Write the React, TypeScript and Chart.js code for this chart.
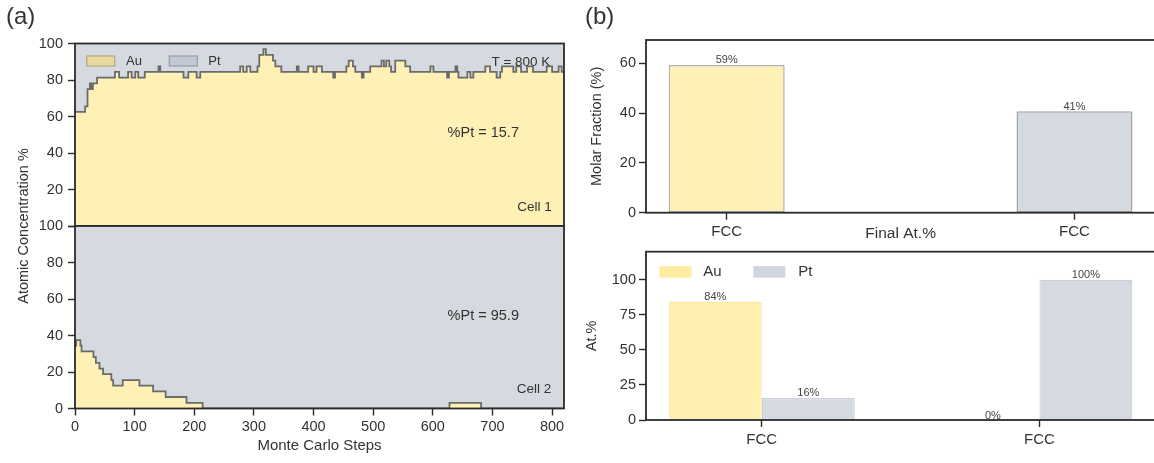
import React, { useEffect, useRef } from 'react';
import { Chart, registerables } from 'chart.js';

Chart.register(...registerables);

const FONT = '"Liberation Sans", Arial, Helvetica, sans-serif';
Chart.defaults.font.family = FONT;

const TEXT = '#333333';
const AXIS = '#2b2b2b';
const YELLOW = 'rgb(255, 241, 181)';
const GRAY = 'rgb(213, 218, 225)';
const STEP_LINE = '#6b6b6b';

// ---------------- data ----------------
const seriesNames = ['Au', 'Pt'];

// Cell 1: Monte Carlo step where the Au fraction changes, and the Au % from that step on
const cell1Steps = [0, 17, 21, 25, 28, 30, 37, 67, 74, 89, 95, 101, 106, 117, 140, 143, 182, 190, 204, 210,
  277, 282, 288, 294, 306, 309, 316, 320, 332, 336, 346, 372, 375, 391, 400, 405, 414, 433, 436, 455,
  459, 466, 470, 481, 484, 495, 514, 518, 522, 527, 530, 537, 554, 562, 596, 601, 624, 627, 638, 641,
  643, 658, 663, 668, 688, 696, 707, 713, 716, 735, 740, 748, 758, 768, 791, 800, 811, 816, 820];
const cell1Au = [62.5, 65.6, 75.0, 78.1, 75.0, 78.1, 81.3, 84.4, 81.3, 84.4, 81.3, 84.4, 81.3, 84.4, 87.5, 84.4, 81.3, 84.4, 81.3, 84.4,
  87.5, 84.4, 87.5, 84.4, 87.5, 93.8, 96.9, 93.8, 90.6, 87.5, 84.4, 87.5, 84.4, 87.5, 84.4, 87.5, 84.4, 81.3, 84.4, 87.5,
  90.6, 87.5, 84.4, 81.3, 84.4, 87.5, 90.6, 87.5, 90.6, 87.5, 84.4, 90.6, 87.5, 84.4, 87.5, 84.4, 81.3, 84.4, 87.5, 84.4,
  81.3, 84.4, 81.3, 84.4, 87.5, 84.4, 81.3, 84.4, 87.5, 84.4, 87.5, 84.4, 87.5, 84.4, 87.5, 84.4, 87.5, 84.4, 84.4];

// Cell 2
const cell2Steps = [0, 2, 9, 11, 31, 35, 41, 47, 61, 64, 80, 108, 131, 152, 187, 214, 628, 681, 820];
const cell2Au = [34.4, 37.5, 34.4, 31.3, 28.1, 25.0, 21.9, 18.8, 15.6, 12.5, 15.6, 12.5, 9.4, 6.3, 3.1, 0, 3.1, 0, 0];

const cellNames = ['Cell 1', 'Cell 2'];
const cellPt = [15.7, 95.9];
const temperature = 'T = 800 K';

// Panel (b)
const phaseLabels = ['FCC', 'FCC'];
const molarFraction = [59.3, 40.7];
const finalAu = [84.3, 0];
const finalPt = [15.7, 100];

// ---------------- plugins ----------------
type TextItem = { text: string; x: number; y: number; size: number; align?: CanvasTextAlign; rel?: boolean; rotate?: number };

function textPlugin(items: TextItem[]) {
  return {
    id: 'texts',
    afterDraw(chart: any) {
      const { ctx, chartArea: a } = chart;
      items.forEach((it) => {
        const x = it.rel ? a.left + it.x * (a.right - a.left) : it.x;
        const y = it.rel ? a.top + it.y * (a.bottom - a.top) : it.y;
        ctx.save();
        ctx.translate(x, y);
        if (it.rotate) ctx.rotate(it.rotate);
        ctx.font = `${it.size}px ${FONT}`;
        ctx.fillStyle = TEXT;
        ctx.textAlign = it.align ?? 'left';
        ctx.textBaseline = 'middle';
        ctx.fillText(it.text, 0, 0);
        ctx.restore();
      });
    },
  };
}

const framePlugin = {
  id: 'frame',
  afterDraw(chart: any) {
    const { ctx, chartArea: a } = chart;
    ctx.save();
    ctx.strokeStyle = AXIS;
    ctx.lineWidth = 1.8;
    ctx.strokeRect(a.left, a.top, a.right - a.left, a.bottom - a.top);
    ctx.restore();
  },
};

type PatchItem = { label: string; fill: string; stroke: string; boxX: number; textX: number };
function patchLegend(cfg: { boxTop: number; boxW: number; boxH: number; size: number; lineWidth: number; items: PatchItem[] }) {
  return {
    id: 'patchLegend',
    afterDatasetsDraw(chart: any) {
      const { ctx, chartArea: a } = chart;
      cfg.items.forEach((it) => {
        const bx = a.left + it.boxX;
        const by = a.top + cfg.boxTop;
        ctx.save();
        ctx.fillStyle = it.fill;
        ctx.fillRect(bx, by, cfg.boxW, cfg.boxH);
        if (cfg.lineWidth > 0) {
          ctx.strokeStyle = it.stroke;
          ctx.lineWidth = cfg.lineWidth;
          ctx.strokeRect(bx, by, cfg.boxW, cfg.boxH);
        }
        ctx.font = `${cfg.size}px ${FONT}`;
        ctx.fillStyle = TEXT;
        ctx.textAlign = 'left';
        ctx.textBaseline = 'middle';
        ctx.fillText(it.label, a.left + it.textX, by + cfg.boxH / 2);
        ctx.restore();
      });
    },
  };
}

const barLabelPlugin = {
  id: 'barLabels',
  afterDatasetsDraw(chart: any) {
    const { ctx } = chart;
    chart.data.datasets.forEach((ds: any, i: number) => {
      const meta = chart.getDatasetMeta(i);
      meta.data.forEach((el: any, j: number) => {
        const v = ds.data[j].y;
        ctx.save();
        ctx.font = `11px ${FONT}`;
        ctx.fillStyle = '#444444';
        ctx.textAlign = 'center';
        ctx.textBaseline = 'alphabetic';
        ctx.fillText(`${Math.round(v)}%`, el.x, el.y - 1.5);
        ctx.restore();
      });
    });
  },
};

// ---------------- helpers ----------------
const tickGrid = { display: true, drawOnChartArea: false, drawTicks: true, tickLength: 7, tickColor: AXIS, tickWidth: 1.4, offset: false };

function yScale(min: number, max: number, step: number, width: number, padding: number, extra: any = {}) {
  return {
    type: 'linear',
    min,
    max,
    afterFit: (s: any) => { s.width = width; },
    ticks: { stepSize: step, includeBounds: false, font: { family: FONT, size: 14.5 }, color: TEXT, padding, ...(extra.ticks || {}) },
    grid: tickGrid,
    border: { display: false },
    title: extra.title || { display: false },
  };
}

function stepData(steps: number[], vals: number[]) {
  return steps.map((s, i) => ({ x: s, y: vals[i] }));
}

function cellDatasets(steps: number[], vals: number[]) {
  return [
    {
      label: seriesNames[0],
      data: stepData(steps, vals),
      stepped: 'before',
      borderColor: STEP_LINE,
      borderWidth: 1.8,
      backgroundColor: YELLOW,
      fill: 'origin',
      pointRadius: 0,
    },
    {
      label: seriesNames[1],
      data: stepData(steps, vals),
      stepped: 'before',
      borderColor: 'rgba(0,0,0,0)',
      borderWidth: 0,
      backgroundColor: GRAY,
      fill: 'end',
      pointRadius: 0,
    },
  ];
}

const baseOptions = {
  responsive: false,
  animation: false,
  devicePixelRatio: 1,
  events: [],
};

// ---------------- chart builders ----------------
const buildCell1 = () => ({
  type: 'line',
  data: { datasets: cellDatasets(cell1Steps, cell1Au) },
  options: {
    ...baseOptions,
    layout: { padding: { left: 0, top: 43.5, right: 36, bottom: 14 } },
    plugins: { legend: { display: false }, tooltip: { enabled: false } },
    scales: {
      x: { type: 'linear', min: 0, max: 820, display: false },
      y: yScale(0, 100, 20, 75, 5, { ticks: { callback: (v: any) => (v === 0 ? '' : String(v)) } }),
    },
  },
  plugins: [
    patchLegend({
      boxTop: 12.5, boxW: 28, boxH: 10, size: 13, lineWidth: 1.2,
      items: [
        { label: seriesNames[0], fill: 'rgb(232, 217, 156)', stroke: 'rgb(178, 168, 125)', boxX: 11.7, textX: 51 },
        { label: seriesNames[1], fill: 'rgb(192, 200, 211)', stroke: 'rgb(150, 157, 167)', boxX: 94.3, textX: 133.3 },
      ],
    }),
    framePlugin,
    textPlugin([
      { text: '(a)', x: 6, y: 17, size: 24 },
      { text: temperature, x: 0.972, y: 0.105, size: 13.5, align: 'right', rel: true },
      { text: `%Pt = ${cellPt[0]}`, x: 0.762, y: 0.49, size: 14.5, rel: true },
      { text: cellNames[0], x: 0.975, y: 0.9, size: 13.5, align: 'right', rel: true },
    ]),
  ],
});

const buildCell2 = () => ({
  type: 'line',
  data: { datasets: cellDatasets(cell2Steps, cell2Au) },
  options: {
    ...baseOptions,
    layout: { padding: { left: 0, top: 226, right: 36, bottom: 0 } },
    plugins: { legend: { display: false }, tooltip: { enabled: false } },
    scales: {
      x: {
        type: 'linear',
        min: 0,
        max: 820,
        afterFit: (s: any) => { s.height = 54.5; },
        ticks: { stepSize: 100, includeBounds: false, font: { family: FONT, size: 14.5 }, color: TEXT, padding: 3, maxRotation: 0, autoSkip: false },
        grid: tickGrid,
        border: { display: false },
        title: { display: true, text: 'Monte Carlo Steps', color: TEXT, font: { family: FONT, size: 15 }, padding: { top: 0, bottom: 8 } },
      },
      y: yScale(0, 100, 20, 75, 5),
    },
  },
  plugins: [
    framePlugin,
    textPlugin([
      { text: 'Atomic Concentration %', x: 24, y: 226, size: 14.5, align: 'center', rotate: -Math.PI / 2 },
      { text: `%Pt = ${cellPt[1]}`, x: 0.762, y: 0.493, size: 14.5, rel: true },
      { text: cellNames[1], x: 0.974, y: 0.895, size: 13.5, align: 'right', rel: true },
    ]),
  ],
});

function catXScale(min: number, max: number, height: number, padding: number, title: any) {
  return {
    type: 'linear',
    min,
    max,
    offset: false,
    afterFit: (s: any) => { s.height = height; },
    afterBuildTicks: (s: any) => { s.ticks = phaseLabels.map((_, i) => ({ value: i })); },
    ticks: { callback: (_v: any, i: number) => phaseLabels[i], font: { family: FONT, size: 15 }, color: TEXT, padding, maxRotation: 0, autoSkip: false },
    grid: tickGrid,
    border: { display: false },
    title,
  };
}

const buildMolar = () => ({
  type: 'bar',
  data: {
    datasets: [
      {
        label: 'Molar Fraction',
        data: molarFraction.map((v, i) => ({ x: i, y: v })),
        backgroundColor: [YELLOW, GRAY],
        borderColor: ['rgb(176, 176, 176)', 'rgb(166, 166, 166)'],
        borderWidth: 1.5,
        borderSkipped: false,
        barPercentage: 0.3335,
        categoryPercentage: 1,
      },
    ],
  },
  options: {
    ...baseOptions,
    layout: { padding: { left: 0, top: 40, right: 4.8, bottom: 0 } },
    plugins: { legend: { display: false }, tooltip: { enabled: false } },
    scales: {
      x: catXScale(-0.232, 1.232, 32.3, 3, {
        display: true, text: 'Final At.%', color: TEXT, font: { family: FONT, size: 15.5 }, padding: { top: 0, bottom: 1.7 },
      }),
      y: yScale(0, 69.3, 20, 86, 3, {
        title: { display: true, text: 'Molar Fraction (%)', color: TEXT, font: { family: FONT, size: 14.5 }, padding: { top: 28.3, bottom: 0 } },
      }),
    },
  },
  plugins: [
    barLabelPlugin,
    framePlugin,
    textPlugin([{ text: '(b)', x: 25, y: 17, size: 24 }]),
  ],
});

const buildFinal = () => ({
  type: 'bar',
  data: {
    datasets: [
      {
        label: seriesNames[0],
        data: finalAu.map((v, i) => ({ x: i, y: v })),
        backgroundColor: 'rgb(255, 240, 176)',
        borderColor: 'rgb(251, 232, 160)',
        borderWidth: 1.2,
        borderSkipped: false,
        barPercentage: 1,
        categoryPercentage: 0.67,
      },
      {
        label: seriesNames[1],
        data: finalPt.map((v, i) => ({ x: i, y: v })),
        backgroundColor: GRAY,
        borderColor: 'rgb(201, 208, 218)',
        borderWidth: 1.2,
        borderSkipped: false,
        barPercentage: 1,
        categoryPercentage: 0.67,
      },
    ],
  },
  options: {
    ...baseOptions,
    layout: { padding: { left: 0, top: 7.3, right: 4.8, bottom: 0 } },
    plugins: { legend: { display: false }, tooltip: { enabled: false } },
    scales: {
      x: catXScale(-0.417, 1.417, 43, 4, { display: false }),
      y: yScale(0, 120, 25, 86, 3, {
        title: { display: true, text: 'At.%', color: TEXT, font: { family: FONT, size: 14.5 }, padding: { top: 23.3, bottom: 0 } },
      }),
    },
  },
  plugins: [
    barLabelPlugin,
    patchLegend({
      boxTop: 14.4, boxW: 32, boxH: 11.6, size: 15, lineWidth: 0,
      items: [
        { label: seriesNames[0], fill: 'rgb(255, 236, 160)', stroke: 'rgb(255, 236, 160)', boxX: 13.3, textX: 57.3 },
        { label: seriesNames[1], fill: 'rgb(208, 214, 222)', stroke: 'rgb(208, 214, 222)', boxX: 107.3, textX: 152.3 },
      ],
    }),
    framePlugin,
  ],
});

// ---------------- components ----------------
function ChartBox({ left, top, width, height, build }: { left: number; top: number; width: number; height: number; build: () => any }) {
  const ref = useRef<HTMLCanvasElement | null>(null);
  useEffect(() => {
    if (!ref.current) return;
    const chart = new Chart(ref.current, build());
    return () => chart.destroy();
  }, [build]);
  return (
    <canvas
      ref={ref}
      width={width}
      height={height}
      style={{ position: 'absolute', left, top, width, height, display: 'block' }}
    />
  );
}

export default function App() {
  return (
    <div style={{ position: 'fixed', left: 0, top: 0, width: 1154, height: 463, overflow: 'hidden', background: '#ffffff' }}>
      <ChartBox left={0} top={0} width={600} height={240} build={buildCell1} />
      <ChartBox left={0} top={0} width={600} height={463} build={buildCell2} />
      <ChartBox left={560} top={0} width={600} height={245} build={buildMolar} />
      <ChartBox left={560} top={240} width={600} height={223} build={buildFinal} />
    </div>
  );
}
